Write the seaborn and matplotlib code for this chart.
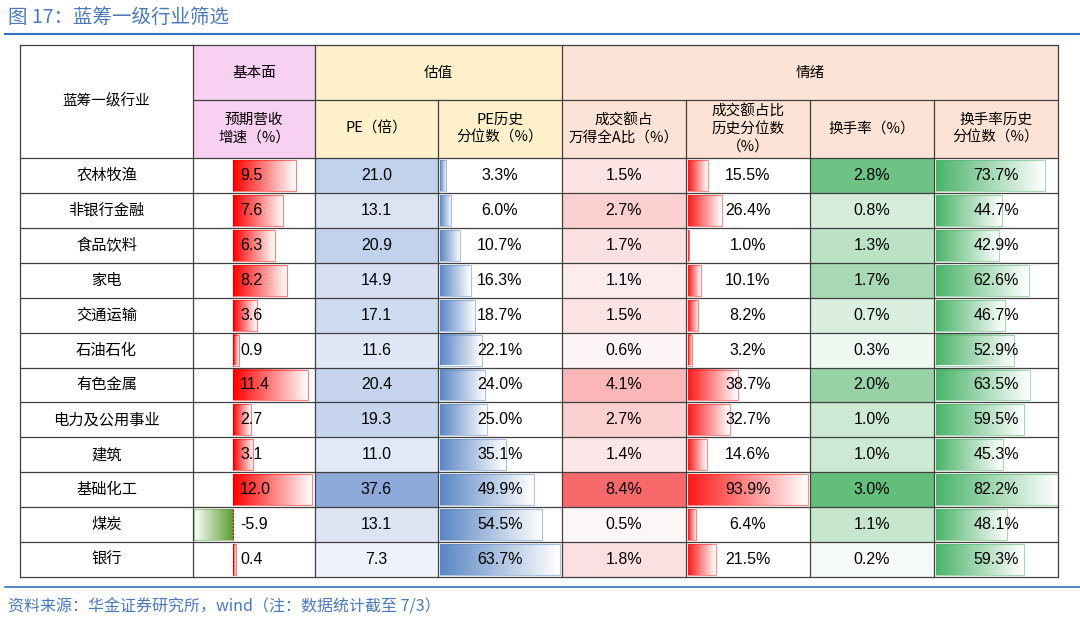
import numpy as np
import seaborn as sns
import matplotlib.pyplot as plt
from matplotlib.colors import LinearSegmentedColormap, to_rgb
from matplotlib.patches import Rectangle

industries = ['农林牧渔', '非银行金融', '食品饮料', '家电', '交通运输', '石油石化',
              '有色金属', '电力及公用事业', '建筑', '基础化工', '煤炭', '银行']
growth = [9.5, 7.6, 6.3, 8.2, 3.6, 0.9, 11.4, 2.7, 3.1, 12.0, -5.9, 0.4]
pe = [21.0, 13.1, 20.9, 14.9, 17.1, 11.6, 20.4, 19.3, 11.0, 37.6, 13.1, 7.3]
pe_pct = [3.3, 6.0, 10.7, 16.3, 18.7, 22.1, 24.0, 25.0, 35.1, 49.9, 54.5, 63.7]
amt_share = [1.5, 2.7, 1.7, 1.1, 1.5, 0.6, 4.1, 2.7, 1.4, 8.4, 0.5, 1.8]
amt_pct = [15.5, 26.4, 1.0, 10.1, 8.2, 3.2, 38.7, 32.7, 14.6, 93.9, 6.4, 21.5]
turnover = [2.8, 0.8, 1.3, 1.7, 0.7, 0.3, 2.0, 1.0, 1.0, 3.0, 1.1, 0.2]
turn_pct = [73.7, 44.7, 42.9, 62.6, 46.7, 52.9, 63.5, 59.5, 45.3, 82.2, 48.1, 59.3]

CJK = 'Noto Sans CJK SC'
NUM = 'Liberation Sans'

fig = plt.figure(figsize=(10.8, 6.23), dpi=100)
ax = fig.add_axes([0, 0, 1, 1])
ax.set_xlim(0, 1080)
ax.set_ylim(623, 0)
ax.axis('off')

xs = [20, 193, 315, 438, 562, 686, 810, 934, 1058]
y0, y1, y2 = 45, 100, 158
rh = (577 - y2) / len(industries)

# header fills
ax.add_patch(Rectangle((xs[1], y0), xs[2] - xs[1], y2 - y0, color='#f8d0f1', lw=0))
ax.add_patch(Rectangle((xs[2], y0), xs[4] - xs[2], y2 - y0, color='#fdf0cb', lw=0))
ax.add_patch(Rectangle((xs[4], y0), xs[8] - xs[4], y2 - y0, color='#fce3d5', lw=0))

def scale_cmap(hi):
    return LinearSegmentedColormap.from_list('c', sns.blend_palette(['#ffffff', hi], 10))

pe_cmap = LinearSegmentedColormap.from_list('pe', ['#eef2fa', '#8eaadb'])
amt_cmap = LinearSegmentedColormap.from_list('amt', ['#fdf6f7', '#f8696b'])
turn_cmap = LinearSegmentedColormap.from_list('turn', ['#f5faf6', '#63be7b'])

def grad_bar(x, y, w, h, color, reverse=False):
    c = np.array(to_rgb(color))
    t = np.linspace(0, 1, 64)
    if reverse:
        t = t[::-1]
    img = (c[None, :] * (1 - t[:, None]) + np.ones(3)[None, :] * t[:, None])
    img = 0.1 + 0.9 * img if False else img
    ax.imshow(img[None, :, :], extent=(x, x + w, y + h, y), aspect='auto', zorder=2)
    ax.add_patch(Rectangle((x, y), w, h, fill=False, ec=color, lw=0.8, alpha=0.5, zorder=3))

def col_scale(vals):
    v = np.array(vals)
    return (v - v.min()) / (v.max() - v.min())

pe_n, amt_n, turn_n = col_scale(pe), col_scale(amt_share), col_scale(turnover)
zero_x = 233
for i in range(len(industries)):
    top = y2 + i * rh
    cy = top + rh / 2
    pad = 2
    # background colour scales
    ax.add_patch(Rectangle((xs[2], top), xs[3] - xs[2], rh, color=pe_cmap(pe_n[i]), lw=0))
    ax.add_patch(Rectangle((xs[4], top), xs[5] - xs[4], rh, color=amt_cmap(amt_n[i]), lw=0))
    ax.add_patch(Rectangle((xs[6], top), xs[7] - xs[6], rh, color=turn_cmap(turn_n[i]), lw=0))
    # growth data bar
    g = growth[i]
    if g >= 0:
        grad_bar(zero_x, top + pad, g * 6.6, rh - 2 * pad, '#ff0000')
    else:
        grad_bar(zero_x + g * 6.6, top + pad, -g * 6.6, rh - 2 * pad, '#5a9e33', reverse=True)
    ax.plot([zero_x, zero_x], [top + pad, top + rh - pad], color='#c00000', lw=0.8, ls=(0, (2, 1)), zorder=4)
    grad_bar(440, top + pad, pe_pct[i] * 1.88, rh - 2 * pad, '#5b87c5')
    grad_bar(688, top + pad, amt_pct[i] * 1.28, rh - 2 * pad, '#ff1a1a')
    grad_bar(936, top + pad, turn_pct[i] * 1.48, rh - 2 * pad, '#4bb46a')
    # texts
    ax.text((xs[0] + xs[1]) / 2, cy, industries[i], ha='center', va='center', fontsize=11, family=CJK)
    ax.text(240, cy, f'{g:.1f}', ha='left', va='center', fontsize=11.5, family=NUM, zorder=5)
    for j, txt in [(2, f'{pe[i]:.1f}'), (3, f'{pe_pct[i]:.1f}%'), (4, f'{amt_share[i]:.1f}%'),
                   (5, f'{amt_pct[i]:.1f}%'), (6, f'{turnover[i]:.1f}%'), (7, f'{turn_pct[i]:.1f}%')]:
        ax.text((xs[j] + xs[j + 1]) / 2, cy, txt, ha='center', va='center', fontsize=11.5,
                family=NUM, zorder=5)

# grid lines
lc = '#404040'
for k in range(len(industries) + 1):
    yy = y2 + k * rh
    ax.plot([xs[0], xs[8]], [yy, yy], color=lc, lw=0.9, zorder=6)
ax.plot([xs[0], xs[8]], [y0, y0], color=lc, lw=0.9, zorder=6)
ax.plot([xs[1], xs[8]], [y1, y1], color=lc, lw=0.9, zorder=6)
for k, xx in enumerate(xs):
    ytop = y1 if k in (3, 5, 6, 7) else y0
    ax.plot([xx, xx], [ytop, 577], color=lc, lw=0.9, zorder=6)

# header texts
hf = dict(ha='center', va='center', fontsize=10.5, family=CJK, linespacing=1.3)
ax.text((xs[0] + xs[1]) / 2, (y0 + y2) / 2, '蓝筹一级行业', **hf)
ax.text((xs[1] + xs[2]) / 2, (y0 + y1) / 2, '基本面', **hf)
ax.text((xs[2] + xs[4]) / 2, (y0 + y1) / 2, '估值', **hf)
ax.text((xs[4] + xs[8]) / 2, (y0 + y1) / 2, '情绪', **hf)
sub = ['预期营收\n增速（%）', 'PE（倍）', 'PE历史\n分位数（%）', '成交额占\n万得全A比（%）',
       '成交额占比\n历史分位数\n（%）', '换手率（%）', '换手率历史\n分位数（%）']
for j, s in enumerate(sub):
    ax.text((xs[j + 1] + xs[j + 2]) / 2, (y1 + y2) / 2, s, **hf)

# title and source
ax.text(8, 17, '图 17：蓝筹一级行业筛选', fontsize=14, family=CJK, color='#4a78b8', va='center')
ax.plot([5, 1080], [34, 34], color='#2f74c0', lw=1.5)
ax.plot([5, 1080], [587, 587], color='#2f74c0', lw=1.2)
ax.text(8, 607, '资料来源：华金证券研究所，wind（注：数据统计截至 7/3）', fontsize=11.5,
        family=CJK, color='#4a78b8', va='center', style='italic')

fig.savefig('out.png', dpi=100)
